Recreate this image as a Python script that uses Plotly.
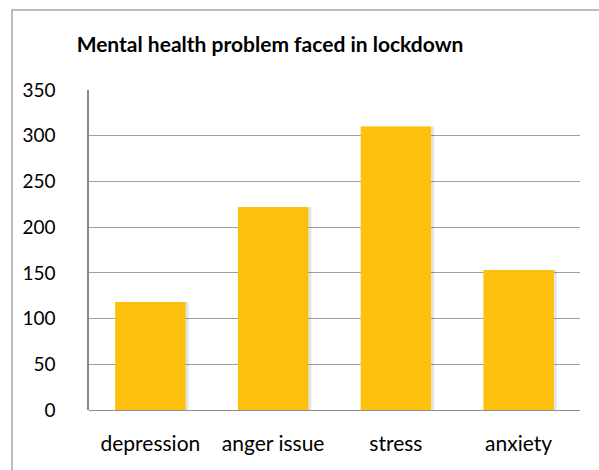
import plotly.graph_objects as go

categories = ["depression", "anger issue", "stress", "anxiety"]
counts = [118, 222, 310, 153]
y_ticks = [0, 50, 100, 150, 200, 250, 300, 350]

BAR_W = 0.574
FONT = "Lato"

fig = go.Figure()

# soft drop shadow behind each bar
fig.add_trace(go.Bar(
    x=categories, y=counts,
    width=BAR_W + 0.02, offset=-BAR_W / 2 + 0.005,
    marker=dict(color="rgba(0,0,0,0.10)", line=dict(width=0)),
    hoverinfo="skip", showlegend=False,
))

fig.add_trace(go.Bar(
    x=categories, y=counts,
    width=BAR_W, offset=-BAR_W / 2,
    marker=dict(color="#FDC00C", line=dict(width=0)),
    showlegend=False,
))

fig.update_layout(
    width=599, height=470,
    margin=dict(l=89, r=19, t=90, b=60),
    paper_bgcolor="white", plot_bgcolor="white",
    barmode="overlay",
    font=dict(family=FONT, size=19, color="#000"),
    title=dict(
        text="<b>Mental health problem faced in lockdown</b>",
        font=dict(family=FONT, size=21, color="#000"),
        x=270 / 599, xanchor="center", xref="container",
        y=1 - 45 / 470, yanchor="middle", yref="container",
    ),
    xaxis=dict(
        showgrid=False, showline=False, ticks="",
        ticklabelstandoff=19,
        tickfont=dict(family=FONT, size=21, color="#000"),
    ),
    yaxis=dict(
        range=[0, 350], tickvals=y_ticks,
        showgrid=True, gridcolor="#a0a0a0", gridwidth=1,
        zeroline=True, zerolinecolor="#909090", zerolinewidth=1,
        showline=True, linecolor="#888888", linewidth=1.5,
        ticks="", ticklabelstandoff=28,
        tickfont=dict(family=FONT, size=19, color="#000"),
    ),
    shapes=[dict(
        type="rect", xref="paper", yref="paper",
        x0=(12 - 89) / 491, x1=1.2, y0=-0.3, y1=(410 - 10) / 320,
        line=dict(color="#a8a8a8", width=1.5), fillcolor="rgba(0,0,0,0)",
        layer="below",
    )],
)

fig.write_html("out.html")
